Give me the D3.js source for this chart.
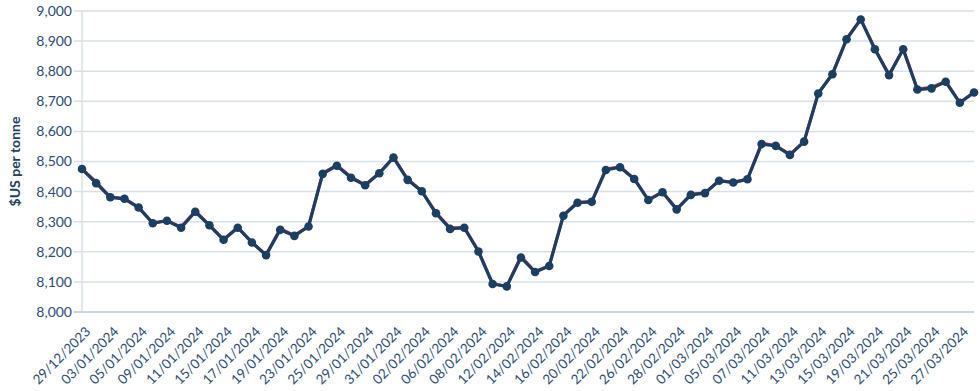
<!DOCTYPE html>
<html>
<head>
    <meta charset="utf-8">
    <script src="https://d3js.org/d3.v7.min.js"></script>
    <style>
        body { margin: 0; background: #fff; }
        text { font-family: Lato, "Open Sans", sans-serif; fill: #2d4c72; }
        .grid line { stroke: #d9dfe7; stroke-width: 1.5px; }
    </style>
</head>
<body>
    <svg width="980" height="391"></svg>
    <script>
        // trading days shown on the chart
        const dates = [
            "29/12/2023", "02/01/2024", "03/01/2024", "04/01/2024", "05/01/2024",
            "08/01/2024", "09/01/2024", "10/01/2024", "11/01/2024", "12/01/2024",
            "15/01/2024", "16/01/2024", "17/01/2024", "18/01/2024", "19/01/2024",
            "22/01/2024", "23/01/2024", "24/01/2024", "25/01/2024", "26/01/2024",
            "29/01/2024", "30/01/2024", "31/01/2024", "01/02/2024", "02/02/2024",
            "05/02/2024", "06/02/2024", "07/02/2024", "08/02/2024", "09/02/2024",
            "12/02/2024", "13/02/2024", "14/02/2024", "15/02/2024", "16/02/2024",
            "19/02/2024", "20/02/2024", "21/02/2024", "22/02/2024", "23/02/2024",
            "26/02/2024", "27/02/2024", "28/02/2024", "29/02/2024", "01/03/2024",
            "04/03/2024", "05/03/2024", "06/03/2024", "07/03/2024", "08/03/2024",
            "11/03/2024", "12/03/2024", "13/03/2024", "14/03/2024", "15/03/2024",
            "18/03/2024", "19/03/2024", "20/03/2024", "21/03/2024", "22/03/2024",
            "25/03/2024", "26/03/2024", "27/03/2024", "28/03/2024"
        ];

        // main series (navy, with dots)
        const priceMain = [
            8475, 8428, 8381, 8376, 8347, 8295, 8303, 8280, 8333, 8288,
            8240, 8280, 8231, 8189, 8273, 8253, 8284, 8459, 8486, 8446,
            8421, 8461, 8513, 8439, 8401, 8328, 8276, 8280, 8201, 8093,
            8085, 8181, 8133, 8153, 8320, 8363, 8366, 8472, 8481, 8442,
            8372, 8398, 8341, 8389, 8395, 8436, 8430, 8441, 8558, 8552,
            8522, 8566, 8726, 8790, 8906, 8972, 8873, 8787, 8873, 8739,
            8743, 8765, 8695, 8729
        ];

        // second series (red, mostly hidden underneath)
        const priceAlt = [
            8476, 8432, 8382, 8377, 8348, 8296, 8304, 8283, 8335, 8289,
            8241, 8281, 8232, 8190, 8277, 8255, 8285, 8462, 8488, 8449,
            8422, 8462, 8514, 8441, 8402, 8330, 8280, 8281, 8203, 8094,
            8086, 8185, 8134, 8154, 8322, 8365, 8367, 8475, 8483, 8443,
            8373, 8399, 8342, 8391, 8396, 8437, 8431, 8442, 8561, 8553,
            8523, 8567, 8727, 8791, 8907, 8973, 8875, 8788, 8874, 8741,
            8747, 8766, 8696, 8730
        ];

        const yTicks = [8000, 8100, 8200, 8300, 8400, 8500, 8600, 8700, 8800, 8900, 9000];

        const svg = d3.select("svg");
        const margin = { left: 82, right: 6, top: 11, bottom: 79 };
        const width = 980, height = 391;

        const x = d3.scalePoint()
            .domain(dates)
            .range([margin.left, width - margin.right]);

        const y = d3.scaleLinear()
            .domain([8000, 9000])
            .range([height - margin.bottom, margin.top]);

        // gridlines
        svg.append("g")
            .attr("class", "grid")
            .selectAll("line")
            .data(yTicks)
            .join("line")
            .attr("x1", margin.left - 8)
            .attr("x2", width - margin.right)
            .attr("y1", d => y(d))
            .attr("y2", d => y(d));

        // y axis line
        svg.append("line")
            .attr("x1", margin.left).attr("x2", margin.left)
            .attr("y1", margin.top).attr("y2", y(8000))
            .attr("stroke", "#d9dfe7").attr("stroke-width", 1.5);

        svg.append("line")
            .attr("x1", margin.left - 8).attr("x2", width - margin.right)
            .attr("y1", y(8000)).attr("y2", y(8000))
            .attr("stroke", "#c5ced9").attr("stroke-width", 1.5);

        // y tick labels
        svg.append("g")
            .selectAll("text")
            .data(yTicks)
            .join("text")
            .attr("x", margin.left - 10)
            .attr("y", d => y(d))
            .attr("dy", "0.35em")
            .attr("text-anchor", "end")
            .style("font-size", "14px")
            .text(d => d3.format(",")(d));

        // y axis title
        svg.append("text")
            .attr("transform", `translate(20, ${(margin.top + y(8000)) / 2}) rotate(-90)`)
            .attr("text-anchor", "middle")
            .style("font-size", "14px")
            .style("font-weight", "bold")
            .style("fill", "#1f3f63")
            .text("$US per tonne");

        // x tick labels (every second date)
        svg.append("g")
            .selectAll("text")
            .data(dates.filter((d, i) => i % 2 === 0))
            .join("text")
            .attr("transform", d => `translate(${x(d) + 6}, ${y(8000) + 17}) rotate(-45)`)
            .attr("text-anchor", "end")
            .attr("dy", "0.35em")
            .style("font-size", "13.5px")
            .text(d => d);

        const line = d3.line()
            .x((d, i) => x(dates[i]))
            .y(d => y(d));

        svg.append("path")
            .datum(priceAlt)
            .attr("fill", "none")
            .attr("stroke", "#e0344f")
            .attr("stroke-width", 3)
            .attr("stroke-linejoin", "round")
            .attr("d", line);

        svg.append("path")
            .datum(priceMain)
            .attr("fill", "none")
            .attr("stroke", "#1b3e63")
            .attr("stroke-width", 3.2)
            .attr("stroke-linejoin", "round")
            .attr("d", line);

        svg.append("g")
            .selectAll("circle")
            .data(priceMain)
            .join("circle")
            .attr("cx", (d, i) => x(dates[i]))
            .attr("cy", d => y(d))
            .attr("r", 4.3)
            .attr("fill", "#1b3e63");
    </script>
</body>
</html>
